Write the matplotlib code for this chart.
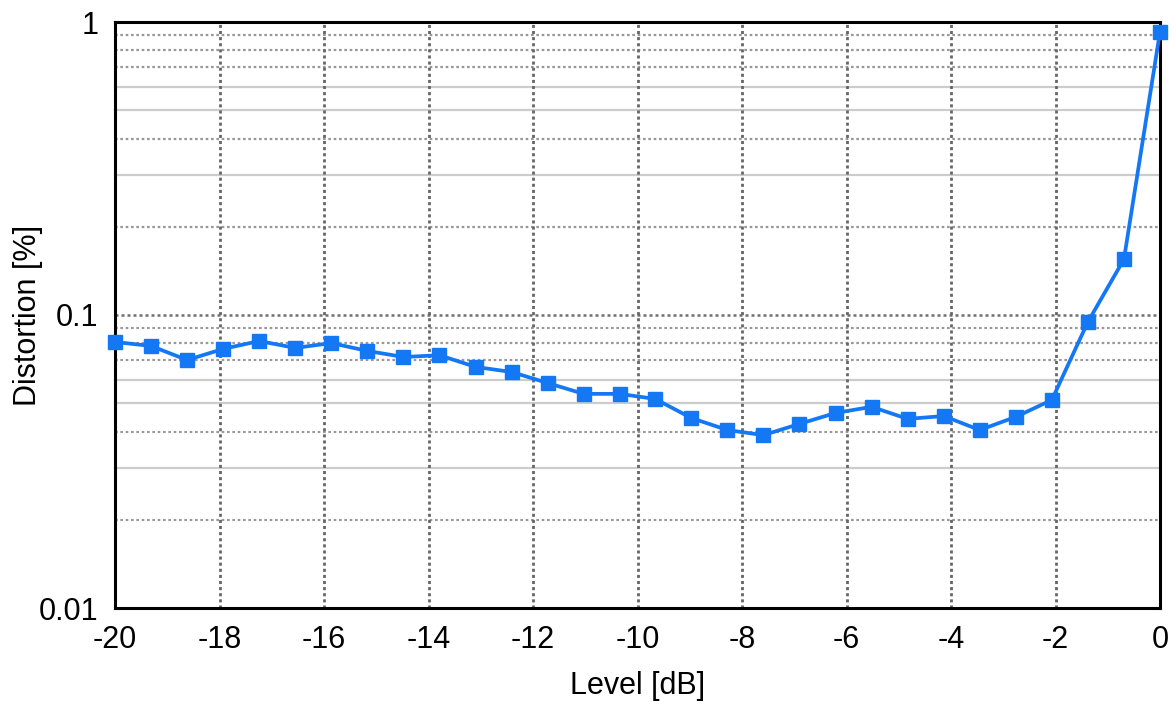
import matplotlib
matplotlib.use("Agg")
import matplotlib.pyplot as plt

# Data
level_db = [-20.0, -19.31, -18.62, -17.93, -17.24, -16.55, -15.86, -15.17, -14.48, -13.79,
            -13.10, -12.41, -11.72, -11.03, -10.34, -9.66, -8.97, -8.28, -7.59, -6.90,
            -6.21, -5.52, -4.83, -4.14, -3.45, -2.76, -2.07, -1.38, -0.69, 0.0]
distortion = [0.0809, 0.0784, 0.0702, 0.0766, 0.0815, 0.0772, 0.0802, 0.0754, 0.0719, 0.0729,
              0.0665, 0.0639, 0.0586, 0.0538, 0.0538, 0.0517, 0.0445, 0.0405, 0.0389, 0.0425,
              0.0463, 0.0486, 0.0442, 0.0452, 0.0405, 0.0449, 0.0513, 0.0947, 0.155, 0.925]

x_ticks = [-20, -18, -16, -14, -12, -10, -8, -6, -4, -2, 0]
y_ticks = [0.01, 0.1, 1]
y_tick_labels = ["0.01", "0.1", "1"]
dotted_minor = [2, 4, 7, 8, 9]
solid_minor = [3, 5, 6]

plt.rcParams['font.family'] = ['Liberation Sans', 'DejaVu Sans']

fig = plt.figure(figsize=(11.76, 7.04), dpi=100)
ax = fig.add_axes([115/1176, 1-608/704, (1160-115)/1176, (608-22)/704])
ax.set_yscale('log')
ax.set_xlim(-20, 0)
ax.set_ylim(0.01, 1)

# Horizontal grid lines
for dec in [0.01, 0.1]:
    for m in solid_minor:
        ax.axhline(dec*m, color='#cccccc', lw=1.6, zorder=1)
    for m in dotted_minor:
        ax.axhline(dec*m, color='#999999', lw=1.6, ls=(0, (1.2, 1.2)), zorder=1)
ax.axhline(0.1, color='#707070', lw=1.8, ls=(0, (1.2, 1.2)), zorder=1.5)

# Vertical grid lines
for xv in x_ticks[1:-1]:
    ax.axvline(xv, color='#666666', lw=2.0, ls=(0, (1.1, 1.1)), zorder=1.5)

ax.plot(level_db, distortion, color='#1478f5', lw=2.7, marker='s', markersize=10,
        markerfacecolor='#1478f5', markeredgecolor='#1478f5', zorder=3, clip_on=False)

ax.set_xticks(x_ticks)
ax.set_xticklabels([str(t) for t in x_ticks])
ax.set_yticks(y_ticks)
ax.set_yticklabels(y_tick_labels)
ax.minorticks_off()
ax.tick_params(axis='both', length=0, labelsize=22)
ax.tick_params(axis='x', pad=12)
ax.tick_params(axis='y', pad=12)

for s in ax.spines.values():
    s.set_linewidth(2.2)
    s.set_color('black')

ax.set_xlabel('Level [dB]', fontsize=22, labelpad=12)
ax.set_ylabel('Distortion [%]', fontsize=22)
ax.yaxis.set_label_coords(-72/1045, 0.5)

fig.savefig('out.png', dpi=100)
